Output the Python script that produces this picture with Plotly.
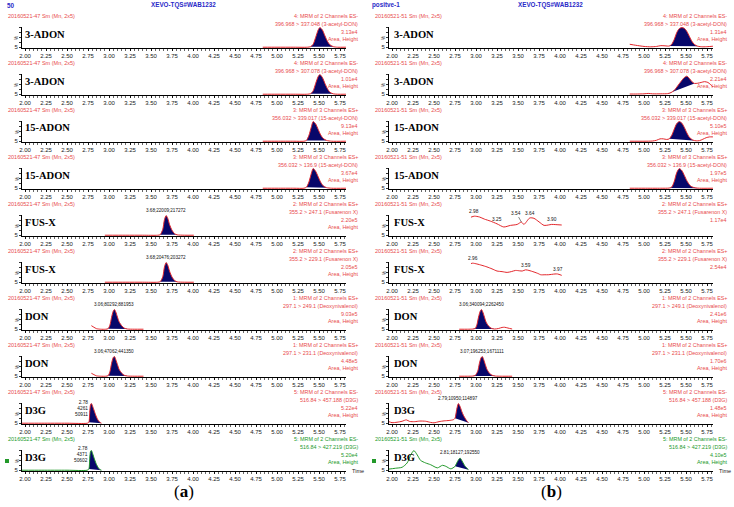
import plotly.graph_objects as go

W, H = 734, 507

# ---------------- data ----------------
TICKS = [2.00, 2.25, 2.50, 2.75, 3.00, 3.25, 3.50, 3.75, 4.00, 4.25, 4.50, 4.75, 5.00, 5.25, 5.50, 5.75]
Y_TICKS = [0, 25, 50, 75, 100]
Y_TICK_TEXT = ["5", "", "", "", ""]

TITLE_LEFT = ["50", "XEVO-TQS#WAB1232"]
TITLE_RIGHT = ["positve-1", "XEVO-TQS#WAB1232"]
RUN_LEFT = "20160521-47 Sm (Mn, 2x5)"
RUN_RIGHT = "20160521-51 Sm (Mn, 2x5)"
PANEL_LETTERS = ["a", "b"]

COMPOUNDS = ["3-ADON", "3-ADON", "15-ADON", "15-ADON", "FUS-X", "FUS-X", "DON", "DON", "D3G", "D3G"]
CHANNELS = ["4: MRM of 2 Channels ES-", "4: MRM of 2 Channels ES-",
            "3: MRM of 3 Channels ES+", "3: MRM of 3 Channels ES+",
            "2: MRM of 2 Channels ES+", "2: MRM of 2 Channels ES+",
            "1: MRM of 2 Channels ES+", "1: MRM of 2 Channels ES+",
            "5: MRM of 2 Channels ES-", "5: MRM of 2 Channels ES-"]
TRANSITIONS = ["396.968 > 337.048 (3-acetyl-DON)", "396.968 > 307.078 (3-acetyl-DON)",
               "356.032 > 339.017 (15-acetyl-DON)", "356.032 > 136.9 (15-acetyl-DON)",
               "355.2 > 247.1 (Fusarenon X)", "355.2 > 229.1 (Fusarenon X)",
               "297.1 > 249.1 (Deoxynivalenol)", "297.1 > 231.1 (Deoxynivalenol)",
               "516.84 > 457.188 (D3G)", "516.84 > 427.219 (D3G)"]
INTENSITY_LEFT = ["3.13e4", "1.01e4", "9.13e4", "3.67e4", "2.20e5", "2.05e5", "9.03e5", "4.48e5", "5.22e4", "5.20e4"]
INTENSITY_RIGHT = ["1.31e4", "2.21e4", "5.10e5", "1.97e5", "1.17e4", "2.54e4", "2.41e6", "1.70e6", "1.48e5", "4.10e5"]
AREA_LEFT = [True, True, True, True, True, True, True, True, True, True]
AREA_RIGHT = [True, True, True, True, False, False, True, True, True, True]

# left column chromatograms (retention time, % intensity)
L1_T = [4.83, 5.00, 5.20, 5.36, 5.40, 5.43, 5.46, 5.49, 5.51, 5.54, 5.57, 5.60, 5.63, 5.67, 5.72, 5.82]
L1_V = [0, 0, 0, 0, 3, 15, 50, 88, 100, 88, 58, 30, 12, 3, 0, 0]
L2_T = [4.83, 5.00, 5.20, 5.36, 5.40, 5.43, 5.46, 5.49, 5.51, 5.54, 5.57, 5.60, 5.63, 5.67, 5.72, 5.82]
L2_V = [0, 0, 0, 0, 3, 17, 55, 90, 100, 85, 55, 28, 10, 2, 0, 0]
L3_T = [4.83, 5.00, 5.20, 5.32, 5.35, 5.38, 5.41, 5.43, 5.46, 5.49, 5.52, 5.55, 5.59, 5.65, 5.82]
L3_V = [0, 0, 0, 0, 4, 30, 75, 100, 88, 60, 32, 14, 4, 0, 0]
L4_T = [4.83, 5.00, 5.20, 5.32, 5.35, 5.38, 5.41, 5.43, 5.46, 5.49, 5.52, 5.55, 5.59, 5.65, 5.82]
L4_V = [0, 0, 0, 0, 5, 32, 78, 100, 86, 58, 30, 12, 3, 0, 0]
L5_T = [2.95, 3.20, 3.40, 3.58, 3.61, 3.64, 3.66, 3.68, 3.70, 3.72, 3.75, 3.78, 3.81, 3.90, 4.01]
L5_V = [0, 0, 0, 0, 3, 30, 80, 100, 85, 55, 25, 8, 2, 0, 0]
L6_T = [2.95, 3.20, 3.40, 3.58, 3.61, 3.64, 3.66, 3.68, 3.70, 3.72, 3.75, 3.78, 3.81, 3.90, 4.01]
L6_V = [0, 0, 0, 0, 3, 28, 78, 100, 86, 57, 26, 9, 2, 0, 0]
L7_T = [2.79, 2.82, 2.85, 2.90, 2.96, 2.99, 3.01, 3.03, 3.05, 3.065, 3.08, 3.10, 3.12, 3.15, 3.18, 3.22, 3.30, 3.41]
L7_V = [18, 10, 3, 0, 0, 3, 20, 60, 92, 100, 88, 62, 38, 18, 6, 1, 0, 0]
L8_T = [2.79, 2.82, 2.85, 2.90, 2.96, 2.99, 3.01, 3.03, 3.05, 3.065, 3.08, 3.10, 3.12, 3.15, 3.18, 3.22, 3.30, 3.41]
L8_V = [15, 8, 2, 0, 0, 3, 22, 65, 95, 100, 85, 60, 35, 16, 5, 1, 0, 0]
L9_T = [1.96, 2.20, 2.50, 2.74, 2.76, 2.77, 2.78, 2.79, 2.81, 2.83, 2.85, 2.87, 2.89, 2.91]
L9_V = [0, 0, 0, 0, 5, 55, 95, 100, 80, 55, 32, 15, 5, 0]
L10_T = [1.96, 2.20, 2.50, 2.74, 2.76, 2.77, 2.78, 2.79, 2.81, 2.83, 2.85, 2.87, 2.89, 2.91]
L10_V = [0, 0, 0, 0, 6, 58, 96, 100, 78, 52, 30, 14, 4, 0]

# right column chromatograms
R1_T = [4.83, 4.90, 5.00, 5.08, 5.15, 5.20, 5.25, 5.30, 5.33, 5.36, 5.39, 5.42, 5.45, 5.48, 5.51, 5.54, 5.57, 5.60, 5.64, 5.70, 5.76, 5.82]
R1_V = [15, 10, 4, 2, 4, 8, 7, 6, 15, 40, 75, 95, 100, 96, 80, 55, 30, 14, 5, 2, 3, 5]
R2_T = [4.83, 4.90, 5.00, 5.05, 5.10, 5.20, 5.28, 5.32, 5.36, 5.40, 5.44, 5.48, 5.51, 5.54, 5.57, 5.60, 5.64, 5.68, 5.72, 5.76, 5.79, 5.82]
R2_V = [1, 1, 2, 4, 2, 2, 3, 8, 20, 42, 65, 85, 92, 80, 64, 55, 56, 60, 64, 60, 50, 36]
R3_T = [4.83, 5.00, 5.10, 5.15, 5.19, 5.23, 5.27, 5.30, 5.33, 5.36, 5.39, 5.42, 5.45, 5.48, 5.51, 5.54, 5.58, 5.62, 5.66, 5.70, 5.74, 5.78, 5.82]
R3_V = [0, 0, 1, 5, 12, 12, 9, 12, 30, 62, 90, 100, 92, 70, 42, 20, 6, 2, 3, 10, 18, 22, 22]
R4_T = [4.83, 5.00, 5.20, 5.30, 5.33, 5.36, 5.39, 5.42, 5.45, 5.48, 5.51, 5.54, 5.57, 5.61, 5.66, 5.82]
R4_V = [0, 0, 0, 1, 6, 35, 80, 100, 90, 65, 38, 18, 7, 2, 0, 0]
R5_T = [2.94, 2.98, 3.04, 3.10, 3.17, 3.25, 3.33, 3.41, 3.49, 3.54, 3.57, 3.64, 3.69, 3.75, 3.81, 3.86, 3.90, 3.95, 4.02]
R5_V = [92, 97, 93, 82, 72, 58, 42, 50, 55, 67, 55, 88, 86, 68, 50, 52, 55, 54, 52]
R6_T = [2.94, 2.96, 3.01, 3.07, 3.13, 3.19, 3.25, 3.31, 3.37, 3.42, 3.47, 3.52, 3.55, 3.59, 3.63, 3.69, 3.74, 3.77, 3.82, 3.86, 3.90, 3.94, 3.97, 4.02]
R6_V = [95, 97, 93, 86, 78, 68, 57, 54, 50, 54, 60, 58, 57, 63, 60, 52, 44, 38, 38, 38, 40, 42, 42, 35]
R7_T = [2.80, 2.90, 2.96, 2.99, 3.01, 3.03, 3.05, 3.065, 3.08, 3.10, 3.12, 3.15, 3.18, 3.22, 3.27, 3.31, 3.34, 3.38, 3.43]
R7_V = [0, 0, 1, 4, 22, 62, 92, 100, 88, 62, 36, 16, 5, 1, 4, 9, 10, 6, 1]
R8_T = [2.80, 2.90, 2.96, 2.99, 3.02, 3.04, 3.06, 3.075, 3.09, 3.11, 3.13, 3.16, 3.19, 3.23, 3.30, 3.43]
R8_V = [0, 0, 1, 4, 25, 65, 94, 100, 86, 60, 35, 15, 5, 1, 0, 0]
R9_T = [1.95, 2.00, 2.06, 2.12, 2.17, 2.21, 2.27, 2.33, 2.40, 2.46, 2.50, 2.56, 2.62, 2.68, 2.73, 2.75, 2.77, 2.79, 2.81, 2.83, 2.85, 2.87, 2.89, 2.91]
R9_V = [10, 3, 5, 10, 17, 9, 8, 11, 10, 4, 2, 8, 12, 14, 18, 25, 70, 100, 85, 60, 40, 25, 12, 3]
R10_T = [1.95, 2.04, 2.12, 2.18, 2.22, 2.26, 2.30, 2.34, 2.40, 2.46, 2.54, 2.60, 2.64, 2.70, 2.75, 2.78, 2.81, 2.84, 2.87, 2.91]
R10_V = [5, 10, 15, 37, 75, 100, 78, 50, 37, 28, 12, 25, 20, 7, 20, 45, 62, 42, 20, 3]

# integrated peak windows (start, end) or None
PEAK_LEFT = [(5.40, 5.67), (5.40, 5.67), (5.35, 5.59), (5.35, 5.59), (3.61, 3.81),
             (3.61, 3.81), (2.99, 3.22), (2.99, 3.22), (2.76, 2.91), (2.76, 2.91)]
PEAK_RIGHT = [(5.30, 5.64), (5.28, 5.60), (5.30, 5.62), (5.30, 5.66), None,
              None, (2.96, 3.22), (2.96, 3.23), (2.75, 2.91), (2.75, 2.91)]

# peak annotations: (time, text, style)
PEAK_LABEL_LEFT = [None, None, None, None,
                   (3.68, "3.68;22009;217272", "top"), (3.68, "3.68;20476;203272", "top"),
                   (3.065, "3.06;80292;881953", "top"), (3.065, "3.06;47062;441350", "top"),
                   (2.78, "2.78<br>4261<br>50911", "side"), (2.78, "2.78<br>4371<br>50602", "side")]
PEAK_LABEL_RIGHT = [None, None, None, None, None, None,
                    (3.065, "3.06;340094;2262450", "top"), (3.075, "3.07;196253;1671111", "top"),
                    (2.79, "2.79;10950;114897", "top"), (2.81, "2.81;18127;192550", "top")]
R5_LABELS = [(2.98, "2.98"), (3.25, "3.25"), (3.54, "3.54"), (3.64, "3.64"), (3.90, "3.90")]
R6_LABELS = [(2.96, "2.96"), (3.59, "3.59"), (3.97, "3.97")]

LEFT_T = [L1_T, L2_T, L3_T, L4_T, L5_T, L6_T, L7_T, L8_T, L9_T, L10_T]
LEFT_V = [L1_V, L2_V, L3_V, L4_V, L5_V, L6_V, L7_V, L8_V, L9_V, L10_V]
RIGHT_T = [R1_T, R2_T, R3_T, R4_T, R5_T, R6_T, R7_T, R8_T, R9_T, R10_T]
RIGHT_V = [R1_V, R2_V, R3_V, R4_V, R5_V, R6_V, R7_V, R8_V, R9_V, R10_V]

# ---------------- styles ----------------
RED_LINE = "#e3262b"
RED_TEXT = "#e84a4c"
GREEN = "#22992a"
NAVY = "#07076a"
BLUE = "#2a2ac8"
SANS = "Liberation Sans, Arial, sans-serif"
SERIF = "Liberation Serif, Times New Roman, serif"
XRANGE = [1.964, 5.821]
YRANGE = [-4, 103]

COLS = [
    dict(x0=22, x1=346, right=360, hdr=6, label=23, run=RUN_LEFT, T=LEFT_T, V=LEFT_V,
         inten=INTENSITY_LEFT, area=AREA_LEFT, peaks=PEAK_LEFT, plabels=PEAK_LABEL_LEFT),
    dict(x0=389, x1=713, right=729, hdr=373, label=392, run=RUN_RIGHT, T=RIGHT_T, V=RIGHT_V,
         inten=INTENSITY_RIGHT, area=AREA_RIGHT, peaks=PEAK_RIGHT, plabels=PEAK_LABEL_RIGHT),
]

fig = go.Figure()
annotations = []
shapes = []
layout = dict(width=W, height=H, margin=dict(l=0, r=0, t=0, b=0, autoexpand=False),
              paper_bgcolor="white", plot_bgcolor="rgba(0,0,0,0)", showlegend=False)


def pa(text, px, py, size, color, xanchor="left", family=SANS, yanchor="middle", textangle=0, align="left"):
    annotations.append(dict(text=text, x=px / W, y=1 - py / H, xref="paper", yref="paper",
                            showarrow=False, xanchor=xanchor, yanchor=yanchor, align=align,
                            textangle=textangle, font=dict(size=size, color=color, family=family)))


def nearest(ts, vs, t):
    i = min(range(len(ts)), key=lambda j: abs(ts[j] - t))
    return vs[i]


for c, col in enumerate(COLS):
    for k in range(10):
        idx = c * 10 + k + 1
        axis_py = 48 + 47 * k
        green = (k == 9)
        lc = GREEN if green else RED_LINE
        tc = GREEN if green else RED_TEXT
        xa = "x" if idx == 1 else f"x{idx}"
        ya = "y" if idx == 1 else f"y{idx}"
        T, V = col["T"][k], col["V"][k]

        win = col["peaks"][k]
        if win is not None:
            pts = [(t, v) for t, v in zip(T, V) if win[0] <= t <= win[1]]
            fig.add_trace(go.Scatter(x=[p[0] for p in pts], y=[p[1] for p in pts], xaxis=xa, yaxis=ya,
                                     mode="lines", fill="toself", fillcolor=NAVY,
                                     line=dict(width=0, color=NAVY, shape="spline", smoothing=0.7),
                                     hoverinfo="skip"))
        fig.add_trace(go.Scatter(x=T, y=V, xaxis=xa, yaxis=ya, mode="lines",
                                 line=dict(color=lc, width=1, shape="spline", smoothing=0.7),
                                 hoverinfo="skip"))

        xkey = "xaxis" if idx == 1 else f"xaxis{idx}"
        ykey = "yaxis" if idx == 1 else f"yaxis{idx}"
        layout[xkey] = dict(domain=[col["x0"] / W, col["x1"] / W], range=XRANGE, anchor=ya,
                            showline=True, linecolor="black", linewidth=1, mirror=False,
                            ticks="outside", ticklen=2, tickwidth=0.8, tickcolor="black",
                            tickvals=TICKS, ticktext=[f"{t:.2f}" for t in TICKS],
                            tickfont=dict(size=6, color="#222", family=SANS),
                            minor=dict(ticks="outside", ticklen=1.5, tickwidth=0.6, tickcolor="black",
                                       tick0=2.0, dtick=0.05),
                            showgrid=False, zeroline=False, fixedrange=True, automargin=False)
        layout[ykey] = dict(domain=[1 - axis_py / H, 1 - (axis_py - 21) / H], range=YRANGE, anchor=xa,
                            showline=True, linecolor="black", linewidth=1,
                            ticks="outside", ticklen=2, tickwidth=0.8, tickcolor="black",
                            tickvals=Y_TICKS, ticktext=Y_TICK_TEXT,
                            tickfont=dict(size=6, color="#222", family=SANS),
                            showgrid=False, zeroline=False, fixedrange=True, automargin=False)

        # texts around the panel
        pa(col["run"], col["hdr"], axis_py - 32, 5.5, tc)
        pa(CHANNELS[k], col["right"], axis_py - 32, 5.4, tc, xanchor="right")
        pa(TRANSITIONS[k], col["right"], axis_py - 24, 5.4, tc, xanchor="right")
        pa(col["inten"][k], col["right"], axis_py - 16, 5.4, tc, xanchor="right")
        if col["area"][k]:
            pa("Area, Height", col["right"], axis_py - 8.7, 5.4, tc, xanchor="right")
        pa("<b>" + COMPOUNDS[k] + "</b>", col["label"], axis_py - 14, 10.5, "black", family=SERIF)
        pa("%", col["x0"] - 5, axis_py - 10, 4.5, "#222", xanchor="center", textangle=-90)

        pl = col["plabels"][k]
        if pl is not None:
            t, txt, style = pl
            v = nearest(T, V, t)
            if style == "top":
                annotations.append(dict(text=txt, x=t, y=v, xref=xa, yref=ya, showarrow=False,
                                        xanchor="center", yanchor="bottom", yshift=1,
                                        font=dict(size=4.6, color="#111", family=SANS)))
            else:
                annotations.append(dict(text=txt, x=t, y=v, xref=xa, yref=ya, showarrow=False,
                                        xanchor="right", yanchor="top", align="right", xshift=-1, yshift=7,
                                        font=dict(size=4.8, color="#111", family=SANS)))

        if green:
            pa("Time", col["x1"] + 4, axis_py, 5.5, "#222")
            sx = col["hdr"] - 1
            shapes.append(dict(type="rect", xref="paper", yref="paper",
                               x0=sx / W, x1=(sx + 4) / W, y0=1 - (axis_py - 8) / H, y1=1 - (axis_py - 12) / H,
                               fillcolor=GREEN, line=dict(width=0)))

# FUS-X (right) retention-time labels
for k, labels in ((4, R5_LABELS), (5, R6_LABELS)):
    idx = 10 + k + 1
    T, V = RIGHT_T[k], RIGHT_V[k]
    for t, txt in labels:
        v = nearest(T, V, t)
        if txt == "3.54":
            annotations.append(dict(text=txt, x=t, y=v, xref=f"x{idx}", yref=f"y{idx}", showarrow=True,
                                    arrowhead=0, arrowwidth=0.6, arrowcolor="#333", ax=-5, ay=-9,
                                    font=dict(size=4.8, color="#111", family=SANS)))
        else:
            annotations.append(dict(text=txt, x=t, y=v, xref=f"x{idx}", yref=f"y{idx}", showarrow=False,
                                    xanchor="center", yanchor="bottom", yshift=0,
                                    font=dict(size=4.8, color="#111", family=SANS)))

# top titles
pa("<b>" + TITLE_LEFT[0] + "</b>", 5, 5, 6.3, BLUE)
pa("<b>" + TITLE_LEFT[1] + "</b>", 183, 5, 6.3, BLUE, xanchor="center")
pa("<b>" + TITLE_RIGHT[0] + "</b>", 370, 5, 6.3, BLUE)
pa("<b>" + TITLE_RIGHT[1] + "</b>", 550, 5, 6.3, BLUE, xanchor="center")

# panel letters
pa("(<b>" + PANEL_LETTERS[0] + "</b>)", 184, 491, 17, "black", xanchor="center", family=SERIF)
pa("(<b>" + PANEL_LETTERS[1] + "</b>)", 551, 491, 17, "black", xanchor="center", family=SERIF)

layout["annotations"] = annotations
layout["shapes"] = shapes
fig.update_layout(**layout)
fig.write_html("out.html", config={"displayModeBar": False, "staticPlot": True},
               post_script="document.body.style.margin='0px';document.body.style.overflow='hidden';")
